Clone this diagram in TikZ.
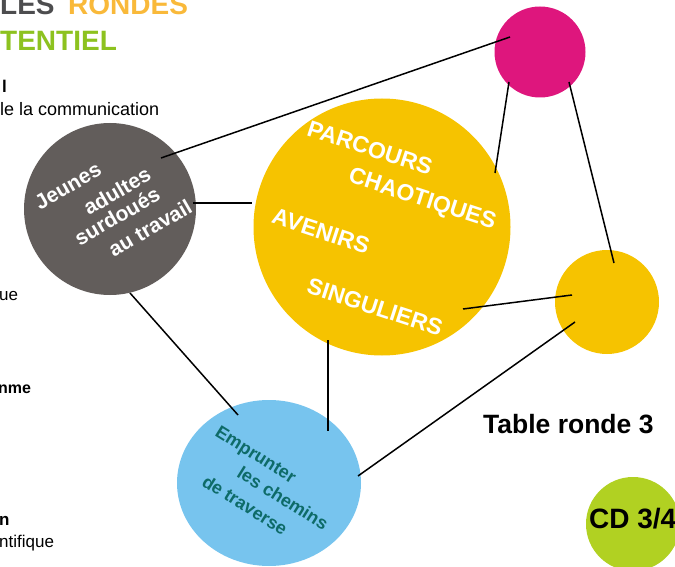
\documentclass[tikz,border=0pt]{standalone}
\usepackage{fontspec}
\setmainfont{Liberation Sans}
\usetikzlibrary{shapes.geometric}
\definecolor{cgrey}{HTML}{625D5B}
\definecolor{cyellow}{HTML}{F6C300}
\definecolor{cmagenta}{HTML}{DE167D}
\definecolor{cblue}{HTML}{77C4EE}
\definecolor{cgreen}{HTML}{B1D122}
\definecolor{cteal}{HTML}{0E6B68}
\definecolor{torange}{HTML}{F9B93A}
\definecolor{tgrey}{HTML}{4D4D4F}
\definecolor{tgreen}{HTML}{8DC21F}
\newcommand{\fs}[1]{\fontsize{#1}{#1}\selectfont}
\tikzset{
  disc/.style={circle, inner sep=0pt, minimum size=#1},
  link/.style={line width=1.5pt, black},
  txt/.style={anchor=base west, inner sep=0pt},
  wlab/.style={inner sep=0pt, text=white, font=\fs{21}\bfseries},
  ylab/.style={inner sep=0pt, text=white, font=\fs{23}\bfseries, rotate=-18},
  blab/.style={inner sep=0pt, text=cteal, font=\fs{18}\bfseries, rotate=-32},
}
\begin{document}
\begin{tikzpicture}[x=1pt, y=-1pt]
\useasboundingbox (0,0) rectangle (675,567);
\clip (0,0) rectangle (675,567);
% circles
\node[disc=91, fill=cmagenta] (mag) at (540,52) {};
\node[disc=172, fill=cgrey] (grey) at (110,209) {};
\node[disc=257, fill=cyellow] (yel) at (382,227) {};
\node[disc=104, fill=cyellow] (syel) at (607,302) {};
\node[ellipse, inner sep=0pt, minimum width=184, minimum height=166, fill=cblue] (blue) at (269,483) {};
\node[disc=94, fill=cgreen] (green) at (633,524) {};
% connector end points
\coordinate (mag-a) at (510,37);
\coordinate (mag-b) at (509,82);
\coordinate (mag-c) at (569,82);
\coordinate (grey-a) at (161,158);
\coordinate (grey-b) at (193,203);
\coordinate (grey-c) at (130,293);
\coordinate (yel-a) at (252,203);
\coordinate (yel-b) at (495,173);
\coordinate (yel-c) at (463,309);
\coordinate (yel-d) at (328,340);
\coordinate (syel-a) at (614,263);
\coordinate (syel-b) at (572,295);
\coordinate (syel-c) at (575,322);
\coordinate (blue-a) at (238,415);
\coordinate (blue-b) at (328,431);
\coordinate (blue-c) at (358,476);
% connectors
\draw[link] (mag-a) -- (grey-a);
\draw[link] (grey-b) -- (yel-a);
\draw[link] (grey-c) -- (blue-a);
\draw[link] (yel-b) -- (mag-b);
\draw[link] (mag-c) -- (syel-a);
\draw[link] (yel-c) -- (syel-b);
\draw[link] (yel-d) -- (blue-b);
\draw[link] (syel-c) -- (blue-c);
% grey circle text
\node[wlab, rotate=30] (g1) at (68,186) {Jeunes};
\node[wlab, rotate=30] (g2) at (117,191) {adultes};
\node[wlab, rotate=30] (g3) at (117,216) {surdoués};
\node[wlab, rotate=30] (g4) at (150,228) {au travail};
% yellow circle text
\node[ylab] (y1) at (370,148) {PARCOURS};
\node[ylab] (y2) at (422,200) {CHAOTIQUES};
\node[ylab] (y3) at (321,231) {AVENIRS};
\node[ylab] (y4) at (375,307) {SINGULIERS};
% blue circle text
\node[blab] (b1) at (255,456) {Emprunter};
\node[blab] (b2) at (283,498) {les chemins};
\node[blab] (b3) at (245,505) {de traverse};
% title and side texts
\node[txt, font=\fs{28}\bfseries, text=tgrey] (t1) at (0,15) {LES};
\node[txt, font=\fs{28}\bfseries, text=torange] (t2) at (68,15) {RONDES};
\node[txt, font=\fs{28}\bfseries, text=tgreen] (t3) at (0,51) {TENTIEL};
\node[txt, font=\fs{17}\bfseries] (s1) at (2,93) {l};
\node[txt, font=\fs{18}] (s2) at (0,116) {le la communication};
\node[txt, font=\fs{17}] (s3) at (-1,300) {ue};
\node[txt, font=\fs{16}\bfseries] (s4) at (-2,393) {nme};
\node[txt, font=\fs{17}\bfseries] (s5) at (-1,525) {n};
\node[txt, font=\fs{17}] (s6) at (-1,547) {ntifique};
\node[txt, font=\fs{26.5}\bfseries] (tr) at (483,433) {Table ronde 3};
\node[txt, font=\fs{28}\bfseries] (cd) at (589,528) {CD 3/4};
\end{tikzpicture}
\end{document}
